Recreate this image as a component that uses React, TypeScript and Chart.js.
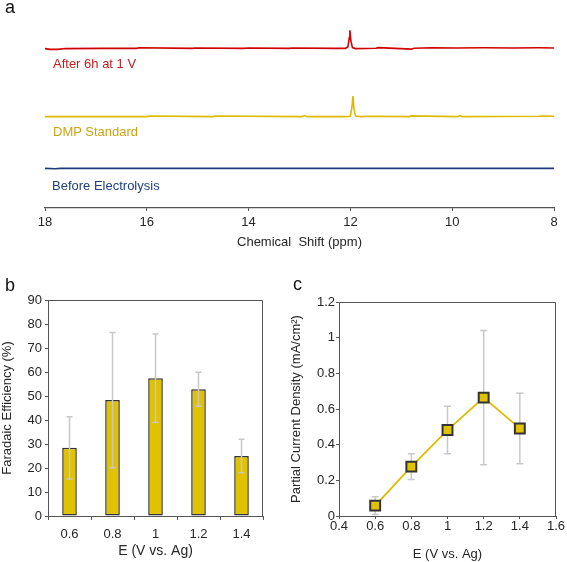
import React, { useEffect, useRef } from "react";
import { Chart, registerables } from "chart.js";
Chart.register(...registerables);

const FONT = "'Liberation Sans', Arial, Helvetica, sans-serif";

// ---------- Panel a: 1H NMR spectra ----------
const shiftTicks = [18, 16, 14, 12, 10, 8];
const afterPpm = [18, 17.9, 17.75, 17.6, 16.9, 16.2, 16.15, 15.1, 15.05, 14.1, 14.0, 13.2, 13.15, 12.3, 12.1, 12.05, 12.02, 12.01, 11.99, 11.96, 11.9, 11.5, 11.45, 10.8, 10.75, 10.4, 9.9, 9.4, 8.8, 8.3, 8.0];
const afterInt = [0, -0.04, -0.04, 0, 0.01, 0.01, 0.04, 0.01, 0.03, 0.01, 0.03, 0.01, 0.03, 0.01, 0.01, 0.08, 0.6, 0.97, 0.4, 0.05, 0, 0.02, 0.05, -0.03, 0.02, 0.04, 0.03, 0.04, 0.03, 0.04, 0.03];
const dmpPpm = [18, 16.0, 15.95, 14.7, 14.65, 12.95, 12.9, 12.85, 12.1, 12.0, 11.97, 11.95, 11.93, 11.9, 11.8, 11.6, 10.85, 10.8, 9.9, 9.85, 9.8, 8.3, 8.2, 8.0];
const dmpInt = [0, 0, 0.03, 0, 0.03, 0, 0.06, 0, 0, 0.02, 0.5, 1.1, 0.4, 0.03, 0, 0.02, 0, 0.04, 0, 0.05, 0, 0.02, 0.03, 0.02];
const beforePpm = [18, 17.8, 17.7, 12, 8];
const beforeInt = [0, -0.02, 0, 0, 0];
const traceOffsets = [8.48, 4.86, 2.11];

// ---------- Panel b: Faradaic efficiency ----------
const potentialLabels = ["0.6", "0.8", "1", "1.2", "1.4"];
const feValues = [28.4, 48.3, 57.4, 52.8, 25.0];
const feErrors = [13.0, 28.2, 18.4, 7.1, 7.0];
const feTicks = [0, 10, 20, 30, 40, 50, 60, 70, 80, 90];

// ---------- Panel c: partial current density ----------
const potentials = [0.6, 0.8, 1.0, 1.2, 1.4];
const jValues = [0.058, 0.277, 0.482, 0.664, 0.491];
const jErrors = [0.05, 0.072, 0.133, 0.376, 0.198];
const potentialTicks = [0.4, 0.6, 0.8, 1.0, 1.2, 1.4, 1.6];
const jTicks = [0, 0.2, 0.4, 0.6, 0.8, 1.0, 1.2];

const RED = "#D00000";
const GOLD = "#DDBB00";
const NAVY = "#1E3A7B";
const BAR_GOLD = "#E0C200";
const AXIS = "#555555";
const TEXT = "#262626";

const fmt = (v: number) => String(parseFloat(Number(v).toFixed(2)));

function errorBars(errors: number[], mode: "before" | "after", cap: number) {
  const draw = (chart: any) => {
    const meta = chart.getDatasetMeta(0);
    const ys = chart.scales.y;
    const vals = chart.data.datasets[0].data;
    const ctx = chart.ctx;
    ctx.save();
    ctx.strokeStyle = "#C8C8C8";
    ctx.lineWidth = 1.5;
    meta.data.forEach((el: any, i: number) => {
      const raw = vals[i];
      const v = typeof raw === "number" ? raw : raw.y;
      const x = el.x;
      const top = ys.getPixelForValue(v + errors[i]);
      const bot = ys.getPixelForValue(v - errors[i]);
      ctx.beginPath();
      ctx.moveTo(x, top);
      ctx.lineTo(x, bot);
      ctx.moveTo(x - cap, top);
      ctx.lineTo(x + cap, top);
      ctx.moveTo(x - cap, bot);
      ctx.lineTo(x + cap, bot);
      ctx.stroke();
    });
    ctx.restore();
  };
  return mode === "before"
    ? { id: "errorBarsBefore", beforeDatasetsDraw: draw }
    : { id: "errorBarsAfter", afterDatasetsDraw: draw };
}

const framePlugin = {
  id: "frame",
  afterDraw(chart: any) {
    const { left, top, right, bottom } = chart.chartArea;
    const ctx = chart.ctx;
    ctx.save();
    ctx.strokeStyle = AXIS;
    ctx.lineWidth = 1;
    ctx.beginPath();
    ctx.moveTo(left, top + 0.5);
    ctx.lineTo(right - 0.5, top + 0.5);
    ctx.lineTo(right - 0.5, bottom);
    ctx.stroke();
    ctx.restore();
  },
};

const tickFont = { family: FONT, size: 13 };

export default function App() {
  const aRef = useRef<HTMLCanvasElement>(null);
  const bRef = useRef<HTMLCanvasElement>(null);
  const cRef = useRef<HTMLCanvasElement>(null);

  useEffect(() => {
    Chart.defaults.font.family = FONT;
    const charts: Chart[] = [];

    const trace = (ppm: number[], ints: number[], off: number, color: string) => ({
      data: ppm.map((x, i) => ({ x, y: ints[i] + off })),
      borderColor: color,
      borderWidth: 1.6,
      pointRadius: 0,
      tension: 0,
      showLine: true,
    });

    charts.push(
      new Chart(aRef.current!, {
        type: "scatter",
        data: {
          datasets: [
            trace(afterPpm, afterInt, traceOffsets[0], RED),
            trace(dmpPpm, dmpInt, traceOffsets[1], GOLD),
            trace(beforePpm, beforeInt, traceOffsets[2], NAVY),
          ] as any,
        },
        options: {
          responsive: false,
          animation: false,
          devicePixelRatio: 1,
          events: [],
          layout: { padding: { left: 45, right: 13, top: 20, bottom: 0 } },
          plugins: { legend: { display: false }, tooltip: { enabled: false } },
          scales: {
            x: {
              type: "linear",
              reverse: true,
              min: 8,
              max: 18,
              afterBuildTicks: (s: any) => {
                s.ticks = shiftTicks.map((v) => ({ value: v }));
              },
              ticks: { font: tickFont, color: TEXT, padding: 4, maxRotation: 0, autoSkip: false, callback: (v: any) => fmt(v) },
              grid: { drawOnChartArea: false, drawTicks: true, tickLength: 3, color: AXIS },
              border: { display: true, color: AXIS, width: 1.2 },
              title: { display: true, text: "Chemical  Shift (ppm)", font: { family: FONT, size: 13 }, color: TEXT, padding: { top: 0, bottom: 0 } },
              afterFit: (s: any) => {
                s.height = 42;
              },
            },
            y: { display: false, min: 0, max: 10 },
          },
        } as any,
      })
    );

    charts.push(
      new Chart(bRef.current!, {
        type: "bar",
        data: {
          labels: potentialLabels,
          datasets: [
            {
              data: feValues,
              backgroundColor: BAR_GOLD,
              borderColor: "#333333",
              borderWidth: 1.5,
              borderSkipped: false,
              categoryPercentage: 1,
              barPercentage: 0.34,
            },
          ],
        },
        options: {
          responsive: false,
          animation: false,
          devicePixelRatio: 1,
          events: [],
          layout: { padding: { left: 0, right: 17, top: 40, bottom: 0 } },
          plugins: { legend: { display: false }, tooltip: { enabled: false } },
          scales: {
            x: {
              ticks: { font: tickFont, color: TEXT, padding: 7, maxRotation: 0 },
              grid: { drawOnChartArea: false, tickLength: 4, color: AXIS, offset: true },
              border: { display: true, color: AXIS, width: 1 },
              title: { display: true, text: "E (V vs. Ag)", font: { family: FONT, size: 14 }, color: TEXT, padding: { top: 0, bottom: 2 } },
              afterFit: (s: any) => {
                s.height = 46;
              },
            },
            y: {
              min: 0,
              max: 90,
              afterBuildTicks: (s: any) => {
                s.ticks = feTicks.map((v) => ({ value: v }));
              },
              ticks: { font: tickFont, color: TEXT, padding: 3 },
              grid: { drawOnChartArea: false, tickLength: 3, color: AXIS },
              border: { display: true, color: AXIS, width: 1 },
              title: { display: true, text: "Faradaic Efficiency (%)", font: { family: FONT, size: 13 }, color: TEXT, padding: { top: 0, bottom: 0 } },
              afterFit: (s: any) => {
                s.width = 48;
              },
            },
          },
        } as any,
        plugins: [errorBars(feErrors, "after", 3), framePlugin],
      })
    );

    charts.push(
      new Chart(cRef.current!, {
        type: "scatter",
        data: {
          datasets: [
            {
              data: potentials.map((x, i) => ({ x, y: jValues[i] })),
              showLine: true,
              borderColor: GOLD,
              borderWidth: 1.8,
              pointStyle: "rect",
              pointRadius: 7,
              pointBackgroundColor: BAR_GOLD,
              pointBorderColor: "#333333",
              pointBorderWidth: 2,
            },
          ] as any,
        },
        options: {
          responsive: false,
          animation: false,
          devicePixelRatio: 1,
          events: [],
          layout: { padding: { left: 0, right: 11, top: 42, bottom: 0 } },
          plugins: { legend: { display: false }, tooltip: { enabled: false } },
          scales: {
            x: {
              type: "linear",
              min: 0.4,
              max: 1.6,
              afterBuildTicks: (s: any) => {
                s.ticks = potentialTicks.map((v) => ({ value: v }));
              },
              ticks: { font: tickFont, color: TEXT, padding: 0, maxRotation: 0, autoSkip: false, callback: (v: any) => fmt(v) },
              grid: { drawOnChartArea: false, tickLength: 3, color: AXIS },
              border: { display: true, color: AXIS, width: 1 },
              title: { display: true, text: "E (V vs. Ag)", font: { family: FONT, size: 13 }, color: TEXT, padding: { top: 0, bottom: 0 } },
              afterFit: (s: any) => {
                s.height = 46;
              },
            },
            y: {
              min: 0,
              max: 1.2,
              afterBuildTicks: (s: any) => {
                s.ticks = jTicks.map((v) => ({ value: v }));
              },
              ticks: { font: tickFont, color: TEXT, padding: 1, callback: (v: any) => fmt(v) },
              grid: { drawOnChartArea: false, tickLength: 3, color: AXIS },
              border: { display: true, color: AXIS, width: 1 },
              title: { display: true, text: "Partial Current Density (mA/cm²)", font: { family: FONT, size: 13 }, color: TEXT, padding: { top: 9, bottom: 0 } },
              afterFit: (s: any) => {
                s.width = 59;
              },
            },
          },
        } as any,
        plugins: [errorBars(jErrors, "before", 3.5), framePlugin],
      })
    );

    return () => charts.forEach((c) => c.destroy());
  }, []);

  const label = (text: string, left: number, top: number, size: number, color: string) => (
    <div
      style={{
        position: "absolute",
        left,
        top,
        fontSize: size,
        lineHeight: `${size}px`,
        color,
        whiteSpace: "pre",
        fontFamily: FONT,
      }}
    >
      {text}
    </div>
  );

  return (
    <div style={{ position: "absolute", left: 0, top: 0, width: 567, height: 562, background: "#fff", overflow: "hidden" }}>
      <canvas ref={aRef} width={567} height={250} style={{ position: "absolute", left: 0, top: 0, width: 567, height: 250 }} />
      <canvas ref={bRef} width={280} height={302} style={{ position: "absolute", left: 0, top: 260, width: 280, height: 302 }} />
      <canvas ref={cRef} width={287} height={302} style={{ position: "absolute", left: 280, top: 260, width: 287, height: 302 }} />
      {label("a", 5, -2, 18, "#111")}
      {label("b", 5, 276, 18, "#111")}
      {label("c", 293, 275, 18, "#111")}
      {label("After 6h at 1 V", 53, 57, 13, "#C41E1E")}
      {label("DMP Standard", 53, 125, 13, "#C9A419")}
      {label("Before Electrolysis", 52, 179, 13, "#203F7F")}
    </div>
  );
}
